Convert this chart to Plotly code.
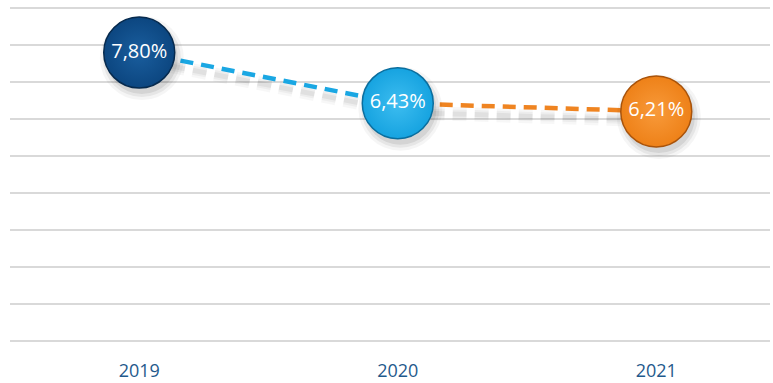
import plotly.graph_objects as go

# data
years = ["2019", "2020", "2021"]
rates = [7.80, 6.43, 6.21]
labels = ["7,80%", "6,43%", "6,21%"]
ball_colors = ["#0C4680", "#16A3E0", "#EE8118"]
center_colors = ["#1A5E9E", "#3DBDF0", "#F89A3A"]
edge_colors = ["#062A4E", "#0A6E9E", "#A9530A"]
seg_colors = ["#1AA7E3", "#EF8421"]

xs = list(range(len(years)))

fig = go.Figure()

# soft shadow under the dashed line
for w, a in [(14, 0.03), (9, 0.04), (5, 0.05)]:
    fig.add_trace(go.Scatter(x=[x + 0.04 for x in xs], y=[r - 0.25 for r in rates], mode="lines",
                             line=dict(color="rgba(0,0,0,%s)" % a, width=w, dash="14px,8px"),
                             hoverinfo="skip", showlegend=False))

# dashed segments
for i in range(len(xs) - 1):
    fig.add_trace(go.Scatter(x=xs[i:i + 2], y=rates[i:i + 2], mode="lines",
                             line=dict(color=seg_colors[i], width=4.5, dash="13px,8px"),
                             hoverinfo="skip", showlegend=False))

# ball shadows (blurred look from stacked translucent circles)
for s, a in [(84, 0.04), (78, 0.06), (72, 0.08)]:
    fig.add_trace(go.Scatter(x=[x + 0.01 for x in xs], y=[r - 0.15 for r in rates], mode="markers",
                             marker=dict(size=s, color="rgba(0,0,0,%s)" % a, line=dict(width=0)),
                             hoverinfo="skip", showlegend=False))

# balls
fig.add_trace(go.Scatter(x=xs, y=rates, mode="markers+text", text=labels,
                         textposition="middle center",
                         textfont=dict(family="Open Sans", size=20, color="white"),
                         marker=dict(size=71, color=ball_colors,
                                     gradient=dict(type="radial", color=center_colors),
                                     line=dict(width=1.5, color=edge_colors)),
                         hoverinfo="skip", showlegend=False))

fig.update_layout(
    width=773, height=383,
    margin=dict(l=10, r=3, t=7, b=41),
    paper_bgcolor="white", plot_bgcolor="white",
    xaxis=dict(range=[-0.5, 2.44], tickvals=xs, ticktext=years, showgrid=False,
               zeroline=False, showline=False, ticks="outside", ticklen=12,
               tickcolor="rgba(0,0,0,0)", automargin=False,
               tickfont=dict(family="Open Sans", size=18, color="#1F5A8C")),
    yaxis=dict(range=[-0.02, 9.03], tickvals=list(range(10)), showticklabels=False,
               showgrid=True, gridcolor="#D9D9D9", gridwidth=1.5,
               zeroline=True, zerolinecolor="#D9D9D9", zerolinewidth=1.5,
               showline=False, automargin=False),
)

fig.write_html("out.html", config={"displayModeBar": False},
               post_script="document.body.style.margin='0';")
